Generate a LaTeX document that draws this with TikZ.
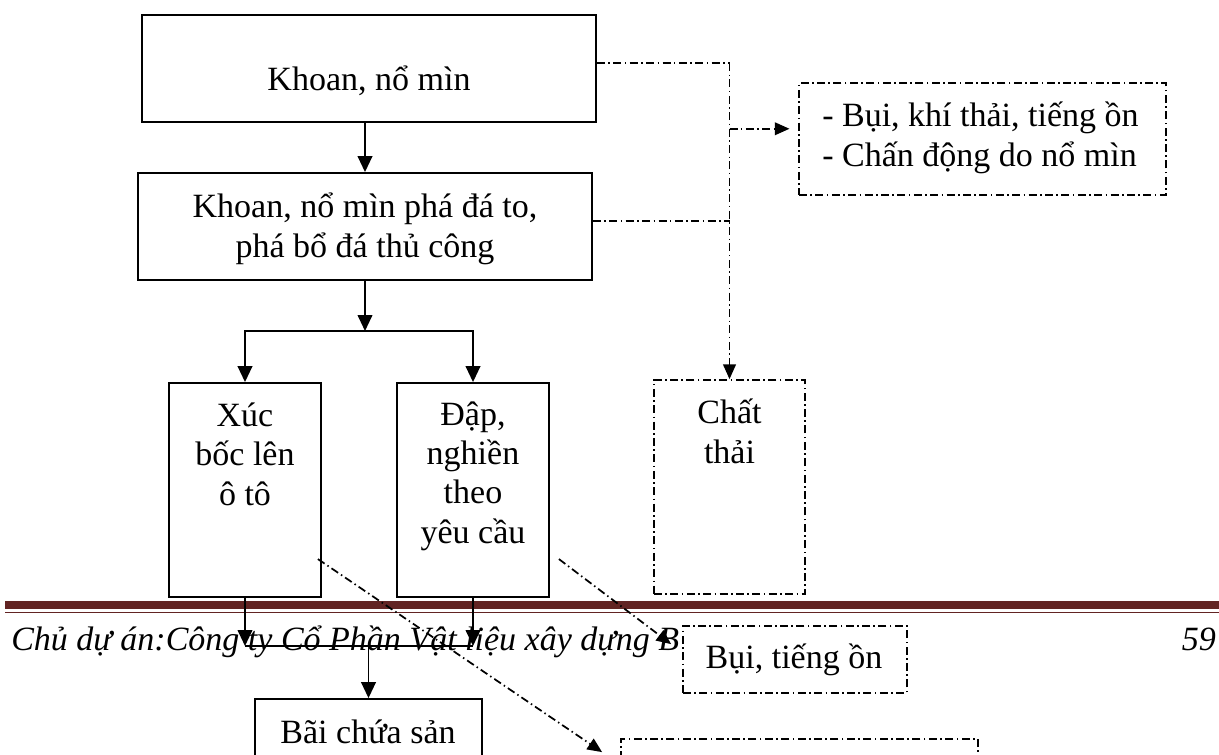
\documentclass[tikz,border=0pt]{standalone}
\usepackage{fontspec}
\setmainfont{Liberation Serif}
\usetikzlibrary{positioning,arrows.meta,calc}
\definecolor{footred}{HTML}{622423}
\tikzset{
  box/.style={draw, line width=1.4pt, fill=white, inner sep=0pt},
  emitbox/.style={box, line width=1.3pt, dash pattern=on 6pt off 2.6pt on 1.1pt off 2.6pt},
  txt/.style={inner sep=0pt, anchor=base, align=center, font=\fontsize{25.5}{29.5}\selectfont},
  flow/.style={line width=1.4pt, -{Triangle[length=12pt,width=11pt]}},
  emitline/.style={line width=1.3pt, dash pattern=on 6pt off 2.6pt on 1.1pt off 2.6pt},
  emitflow/.style={emitline, -{Triangle[length=11pt,width=9.5pt]}},
}
\begin{document}
\begin{tikzpicture}[x=0.75pt,y=0.75pt,yscale=-1]
\useasboundingbox (0,0) rectangle (1219,754);

%Footer
\fill[footred] (5,601) rectangle (1219,609);
\fill[footred] (5,611.5) rectangle (1219,613);
\node[txt, anchor=base west, font=\fontsize{25.5}{29.5}\selectfont\itshape] (footer) at (11,650) {Chủ dự án:Công ty Cổ Phần Vật liệu xây dựng B};
\node[txt, anchor=base east, font=\fontsize{25.5}{29.5}\selectfont\itshape] (pageno) at (1216,650) {59};

%Shapes
\node[box, minimum width=340.5pt, minimum height=80.25pt] (drill) at (369,68.5) {};
\node[box, minimum width=340.5pt, minimum height=80.25pt] (breaker) at (365,226.5) {};
\node[box, minimum width=114pt, minimum height=160.5pt] (load) at (245,490) {};
\node[box, minimum width=114pt, minimum height=160.5pt] (crush) at (473,490) {};
\node[box, minimum width=170.25pt, minimum height=75.75pt] (yard) at (368.5,749.5) {};
\node[emitbox, minimum width=275.25pt, minimum height=84pt] (emit) at (982.5,139) {};
\node[emitbox, minimum width=113.25pt, minimum height=160.5pt] (waste) at (729.5,487) {};
\node[emitbox, minimum width=168pt, minimum height=50.25pt] (noise) at (795,659.5) {};
\node[emitbox, minimum width=267.75pt, minimum height=45.75pt] (dust) at (799.5,769.5) {};

% Text Node (placed at the baseline of the last line)
\node[txt] (drilltext) at (369,90) {Khoan, nổ mìn};
\node[txt] (breakertext) at (365,257) {Khoan, nổ mìn phá đá to,\\phá bổ đá thủ công};
\node[txt] (loadtext) at (245,505) {Xúc\\bốc lên\\ô tô};
\node[txt] (crushtext) at (473,543) {Đập,\\nghiền\\theo\\yêu cầu};
\node[txt] (wastetext) at (729.5,463) {Chất\\thải};
\node[txt, anchor=base west, align=left] (emittext) at (822,166) {- Bụi, khí thải, tiếng ồn\\- Chấn động do nổ mìn};
\node[txt] (noisetext) at (794,668) {Bụi, tiếng ồn};
\node[txt] (yardtext) at (368,743) {Bãi chứa sản};

%Straight Lines
\coordinate (split) at (365,331);
\coordinate (merge) at (368.5,646);
\draw[flow] (breaker.north |- drill.south) -- (breaker.north);
\draw[flow] (breaker.south) -- (split);
\draw[flow] (split) -| (load.north);
\draw[flow] (split) -| (crush.north);
\draw[flow] (load.south) -- (load.south |- merge);
\draw[flow] (crush.south) -- (crush.south |- merge);
\draw[line width=1.4pt] (load.south |- merge) -- (crush.south |- merge);
\draw[flow] (merge) -- (yard.north);

%Emissions
\coordinate (bus) at (729.5,63);
\coordinate (drillout) at ($(drill.north east)!0.45!(drill.south east)$);
\coordinate (breakerout) at ($(breaker.north east)!0.45!(breaker.south east)$);
\coordinate (emitin) at ($(emit.north west)!0.41!(emit.south west)$);
\draw[emitline] (drillout) -- (drillout -| bus);
\draw[emitline] (breakerout) -- (breakerout -| bus);
\draw[emitflow] (drillout -| bus) -- (waste.north);
\draw[emitflow, shorten >=6.5pt] (emitin -| bus) -- (emitin);
\draw[emitflow] ($(load.north east)!0.82!(load.south east)+(-4,0)$) -- ($(dust.north west)+(-18,14)$);
\draw[emitflow] ($(crush.north east)!0.82!(crush.south east)+(9,0)$) -- ($(noise.north west)+(-11,19)$);

\end{tikzpicture}
\end{document}
